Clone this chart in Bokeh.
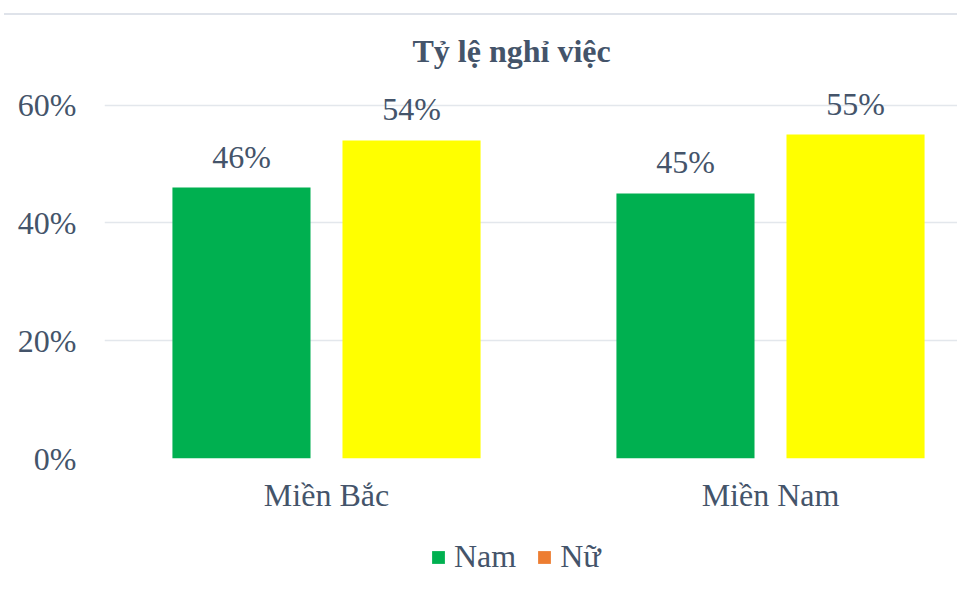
from bokeh.plotting import figure
from bokeh.models import (Range1d, FixedTicker, ColumnDataSource, Legend, LegendItem, Div)
from bokeh.layouts import column
from bokeh.embed import file_html
from bokeh.resources import INLINE
from bokeh.core.properties import value

# ---- data ----
categories = ["Miền Bắc", "Miền Nam"]
series = ["Nam", "Nữ"]
nam = [0.46, 0.45]
nu = [0.54, 0.55]
y_ticks = [0, 0.2, 0.4, 0.6]
y_tick_labels = ["0%", "20%", "40%", "60%"]
title_text = "Tỷ lệ nghỉ việc"

# ---- style ----
FONT = "Liberation Serif"
TXT = "#44546A"
GRID = "#e3e7ec"
RULE = "#dfe3ea"
bar_colors = ["#00B050", "#FFFF00"]
legend_colors = ["#00B050", "#ED7D31"]
FS = "32px"

W = 957
H1 = 515
H2 = 62

# thin rule at the very top of the chart area
strip = Div(text="", width=W - 4, height=2, margin=(13, 0, 0, 4),
            styles={"background-color": RULE})

p = figure(width=W, height=H1, output_backend="svg", toolbar_location=None,
           x_range=Range1d(0, 853 / 444), y_range=Range1d(0, 0.64),
           min_border_left=104, min_border_right=0, min_border_top=66,
           min_border_bottom=72)
p.outline_line_color = None
p.background_fill_color = "white"
p.border_fill_color = "white"

# title
p.title.text = title_text
p.title.text_font = FONT
p.title.text_font_size = FS
p.title.text_font_style = "bold"
p.title.text_color = TXT
p.title.align = "left"
p.title.offset = 308
p.title.standoff = 26

# axes
x_pos = [i + 0.5 for i in range(len(categories))]
p.xaxis.ticker = FixedTicker(ticks=x_pos)
p.xaxis.major_label_overrides = {x: c for x, c in zip(x_pos, categories)}
p.yaxis.ticker = FixedTicker(ticks=y_ticks)
p.yaxis.major_label_overrides = {t: l for t, l in zip(y_ticks, y_tick_labels)}
for ax in (p.xaxis[0], p.yaxis[0]):
    ax.axis_line_color = None
    ax.major_tick_line_color = None
    ax.minor_tick_line_color = None
    ax.major_label_text_font = FONT
    ax.major_label_text_font_size = FS
    ax.major_label_text_color = TXT
p.yaxis.major_label_standoff = 22
p.xaxis.major_label_standoff = 12

p.xgrid.visible = False
p.ygrid.ticker = FixedTicker(ticks=y_ticks)
p.ygrid.grid_line_color = GRID
p.ygrid.grid_line_width = 1.5

# bars
offset = 0.1915
bw = 0.311
src = ColumnDataSource(dict(
    x_nam=[x - offset for x in x_pos],
    x_nu=[x + offset for x in x_pos],
    nam=nam, nu=nu,
    lab_nam=[f"{round(v * 100)}%" for v in nam],
    lab_nu=[f"{round(v * 100)}%" for v in nu],
))
p.vbar(x="x_nam", top="nam", width=bw, fill_color=bar_colors[0], line_color=None, source=src)
p.vbar(x="x_nu", top="nu", width=bw, fill_color=bar_colors[1], line_color=None, source=src)

for xc, yc, lc in (("x_nam", "nam", "lab_nam"), ("x_nu", "nu", "lab_nu")):
    p.text(x=xc, y=yc, text=lc, source=src,
           text_align="center", text_baseline="alphabetic", y_offset=-31,
           text_font=value(FONT), text_font_size=FS, text_color=TXT)

# ---- legend strip (its own small figure so nothing is clipped) ----
pl = figure(width=W, height=H2, output_backend="svg", toolbar_location=None,
            x_range=Range1d(0, 1), y_range=Range1d(0, 1),
            min_border=0, min_border_left=0, min_border_right=0,
            min_border_top=0, min_border_bottom=0)
pl.axis.visible = False
pl.grid.visible = False
pl.outline_line_color = None
pl.background_fill_color = "white"
pl.border_fill_color = "white"
leg_src = ColumnDataSource(dict(x=[0.5], top=[0.0]))
leg_r = [pl.vbar(x="x", top="top", width=0, fill_color=c, line_color=None, source=leg_src)
         for c in legend_colors]
legend = Legend(items=[LegendItem(label=s, renderers=[r]) for s, r in zip(series, leg_r)],
                orientation="horizontal", location=(326, 17),
                border_line_color=None, background_fill_alpha=0,
                label_text_font=FONT, label_text_font_size=FS, label_text_color=TXT,
                glyph_width=16, glyph_height=16, label_standoff=8, spacing=20,
                padding=0, margin=0)
pl.add_layout(legend)

layout = column(strip, p, pl, spacing=0)
open("out.html", "w").write(file_html(layout, INLINE))
